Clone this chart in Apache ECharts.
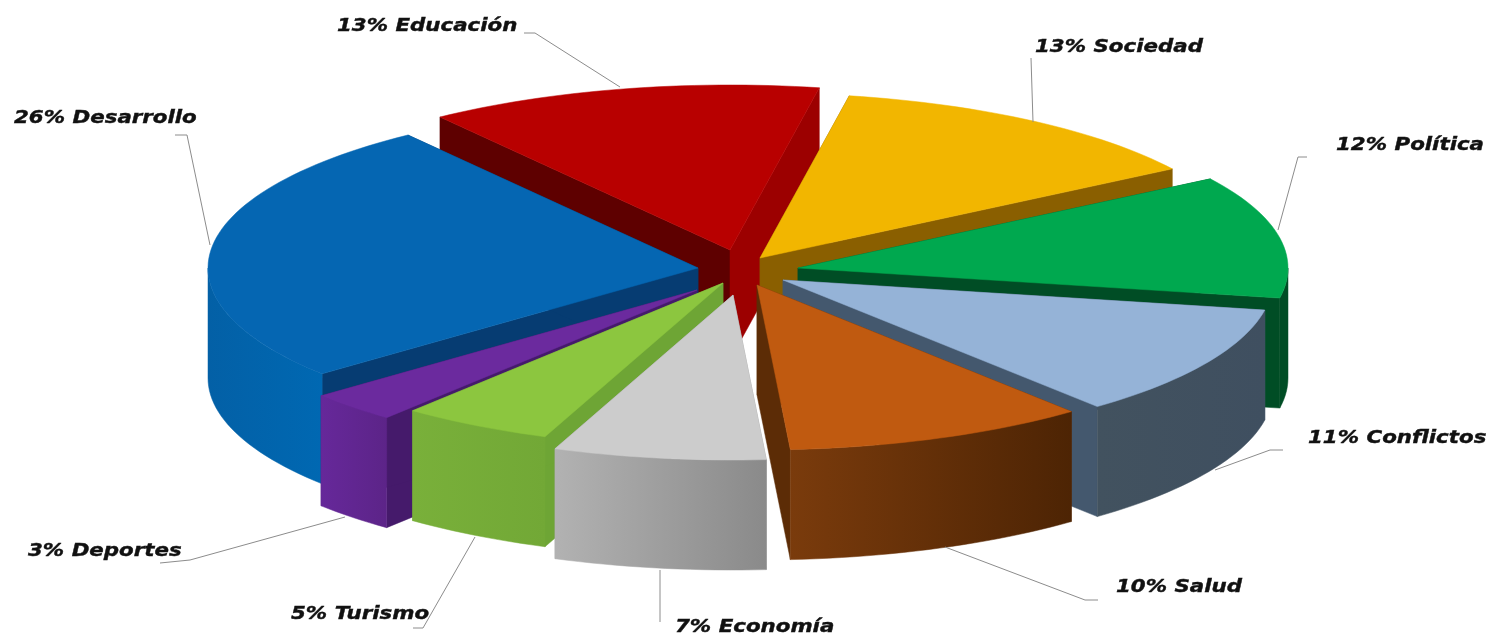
<!DOCTYPE html>
<html><head><meta charset="utf-8">
<style>html,body{margin:0;padding:0;background:#fff}#c{width:1490px;height:639px}</style>
<script src="https://cdn.jsdelivr.net/npm/echarts@6/dist/echarts.min.js"></script>
</head><body><div id="c"></div>
<script>
const categories = ['Sociedad','Política','Conflictos','Salud','Economía','Turismo','Deportes','Desarrollo','Educación'];
const shares = [13,12,11,10,7,5,3,26,13];
const topColors = ['#f2b600','#00a84f','#95b3d7','#c05a10','#cccccc','#8cc63f','#6b2a9e','#0566b2','#b80000'];
const startCutColors = ['#8a5f00','#004d25','#44586e','#5c2c06','#999999','#6ea535','#451a6b','#063c72','#5e0000'];
const endCutColors = ['#8a5f00','#004d25','#44586e','#5c2c06','#999999','#6ea535','#451a6b','#063c72','#9c0000'];
const wallFrom = ['#8a5f00','#004d25','#42525f','#7a3b0c','#b2b2b2','#79b03a','#66289a','#0360a6','#a00000'];
const wallTo = ['#8a5f00','#004d25','#3f4f60','#4d2404','#8a8a8a','#72a836','#5c2488','#0068b2','#a00000'];
// Apex of every exploded slice on screen
const apexX = [760,798,783,757,733,723,697,698,730];
const apexY = [258,268,280,285,295,283,290,268,250];
const labelX = [1035,1336,1308,1116,675,291,28,14,337];
const labelY = [47,145,438,587,627,614,551,118,26];
const leaders = [
  [[1031,58],[1033,122]],
  [[1307,157],[1298,157],[1278,230]],
  [[1283,450],[1270,450],[1215,470]],
  [[1098,600],[1085,600],[945,547]],
  [[660,622],[660,570]],
  [[413,628],[423,628],[475,537]],
  [[160,563],[190,560],[345,517]],
  [[175,135],[187,135],[210,245]],
  [[524,33],[535,33],[620,87]]
];
const startDeg = 10.5, radiusX = 490, radiusY = 165, wallH = 110;
const total = shares.reduce((a,b)=>a+b,0);
const rows = shares.map((v,i)=>[i,v,shares.slice(0,i).reduce((a,b)=>a+b,0)]);
const rad = d => d*Math.PI/180;
function rim(i,d){return [apexX[i]+radiusX*Math.sin(rad(d)), apexY[i]-radiusY*Math.cos(rad(d))];}
function down(p){return [p[0], p[1]+wallH];}
function arcPts(i,a,b){const n=Math.max(2,Math.ceil((b-a)/1.5)),o=[];for(let k=0;k<=n;k++)o.push(rim(i,a+(b-a)*k/n));return o;}
function poly(points,fill,z2){return {type:'polygon',shape:{points},z2,style:{fill,stroke:fill,lineWidth:0.5}};}
function renderItem(params,api){
  const i=api.value(0), v=api.value(1), before=api.value(2);
  const a=startDeg+before/total*360, b=a+v/total*360, mid=(a+b)/2;
  const base=Math.round(-Math.cos(rad(mid))*1000)+2000;
  const apex=[apexX[i],apexY[i]];
  const s=rim(i,a), e=rim(i,b), kids=[];
  kids.push(poly([s,apex,down(apex),down(s)],startCutColors[i],base));
  kids.push(poly([e,apex,down(apex),down(e)],endCutColors[i],base+1));
  const wa=Math.max(a,90), wb=Math.min(b,270);
  if(wb>wa){
    const up=arcPts(i,wa,wb), low=up.map(down).reverse();
    kids.push(poly(up.concat(low),new echarts.graphic.LinearGradient(0,0,1,0,[{offset:0,color:wallFrom[i]},{offset:1,color:wallTo[i]}]),base+2));
  }
  kids.push(poly([apex].concat(arcPts(i,a,b)),topColors[i],base+3));
  kids.push({type:'polyline',shape:{points:leaders[i]},z2:4000,style:{stroke:'#8c8c8c',lineWidth:1,fill:null}});
  kids.push({type:'text',x:labelX[i],y:labelY[i],scaleX:1.2,z2:4001,style:{text:v+'% '+categories[i],fill:'#111',stroke:'#111',lineWidth:0.4,fontFamily:'DejaVu Sans',fontSize:17.8,fontWeight:'bold',fontStyle:'italic',align:'left',verticalAlign:'middle'}});
  return {type:'group',children:kids};
}
const chart=echarts.init(document.getElementById('c'));
chart.setOption({animation:false,backgroundColor:'#fff',
  series:[{type:'custom',coordinateSystem:'none',renderItem,data:rows,silent:true}]});
</script></body></html>
